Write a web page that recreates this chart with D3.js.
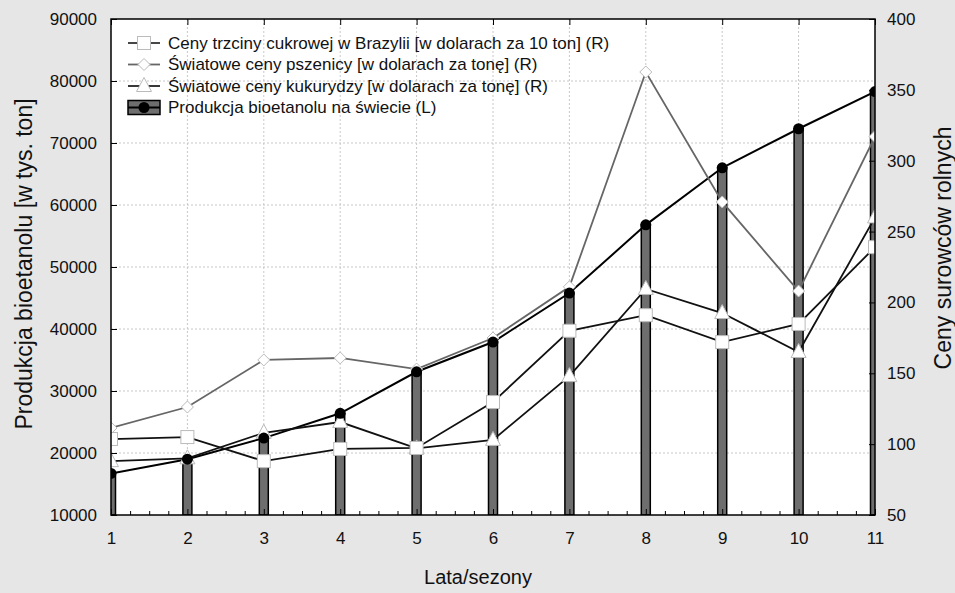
<!DOCTYPE html>
<html>
<head>
<meta charset="utf-8">
<script src="https://cdn.jsdelivr.net/npm/d3@7"></script>
<style>
  body { margin: 0; background: #e6e6e6; }
  svg { display: block; font-family: "Liberation Sans", Arial, sans-serif; }
</style>
</head>
<body>
<div id="chart"></div>
<script>
// data
const years = [1, 2, 3, 4, 5, 6, 7, 8, 9, 10, 11];
const ethanol = [16700, 19000, 22400, 26400, 33100, 37900, 45800, 56800, 66000, 72300, 78300];
const sugarCane = [103.6, 105, 88, 96.6, 97.3, 129.7, 180, 191, 172, 184.8, 239];
const wheat = [111.4, 126.2, 159.4, 160.8, 153, 174.9, 211, 362.6, 270.9, 208, 317];
const corn = [88, 90, 108, 115.6, 97, 103, 148, 209.5, 192.5, 165, 260];
const leftTicks = [10000, 20000, 30000, 40000, 50000, 60000, 70000, 80000, 90000];
const rightTicks = [50, 100, 150, 200, 250, 300, 350, 400];

const legendItems = [
  { label: "Ceny trzciny cukrowej w Brazylii [w dolarach za 10 ton] (R)", type: "square", line: "#333" },
  { label: "Światowe ceny pszenicy [w dolarach za tonę] (R)", type: "diamond", line: "#666" },
  { label: "Światowe ceny kukurydzy [w dolarach za tonę] (R)", type: "triangle", line: "#222" },
  { label: "Produkcja bioetanolu na świecie (L)", type: "bar", line: "#000" }
];

const width = 955, height = 593;
const margin = { top: 19, right: 80, bottom: 78, left: 111 };
const innerW = width - margin.left - margin.right;
const innerH = height - margin.top - margin.bottom;

const svg = d3.select("#chart").append("svg")
  .attr("width", width).attr("height", height);

svg.append("rect").attr("width", width).attr("height", height).attr("fill", "#e6e6e6");

const g = svg.append("g").attr("transform", `translate(${margin.left},${margin.top})`);

const x = d3.scaleLinear().domain([1, 11]).range([0, innerW]);
const yL = d3.scaleLinear().domain([10000, 90000]).range([innerH, 0]);
const yR = d3.scaleLinear().domain([50, 400]).range([innerH, 0]);

g.append("rect").attr("width", innerW).attr("height", innerH).attr("fill", "#fff");

svg.append("defs").append("clipPath").attr("id", "clip")
  .append("rect").attr("width", innerW).attr("height", innerH);

// grid
g.append("g").selectAll("line").data(leftTicks.slice(1, -1)).join("line")
  .attr("x1", 0).attr("x2", innerW)
  .attr("y1", d => yL(d)).attr("y2", d => yL(d))
  .attr("stroke", "#c8c8c8").attr("stroke-dasharray", "2,2");
g.append("g").selectAll("line").data(years.slice(1, -1)).join("line")
  .attr("x1", d => x(d)).attr("x2", d => x(d))
  .attr("y1", 0).attr("y2", innerH)
  .attr("stroke", "#c8c8c8").attr("stroke-dasharray", "2,2");

const plot = g.append("g").attr("clip-path", "url(#clip)");

// bars
const barW = 9;
plot.selectAll(".bar").data(ethanol).join("rect")
  .attr("x", (d, i) => x(years[i]) - barW / 2)
  .attr("y", d => yL(d))
  .attr("width", barW)
  .attr("height", d => innerH - yL(d))
  .attr("fill", "#6e6e6e").attr("stroke", "#000").attr("stroke-width", 1.5);

const lineL = d3.line().x((d, i) => x(years[i])).y(d => yL(d));
const lineR = d3.line().x((d, i) => x(years[i])).y(d => yR(d));

function drawMarker(sel, type, cx, cy) {
  if (type === "square") {
    sel.append("rect").attr("x", cx - 6.5).attr("y", cy - 6.5).attr("width", 13).attr("height", 13)
      .attr("fill", "#fff").attr("stroke", "#bbb").attr("stroke-width", 1);
  } else if (type === "diamond") {
    sel.append("path").attr("d", `M${cx},${cy - 6}L${cx + 6},${cy}L${cx},${cy + 6}L${cx - 6},${cy}Z`)
      .attr("fill", "#fff").attr("stroke", "#bbb").attr("stroke-width", 1);
  } else if (type === "triangle") {
    sel.append("path").attr("d", `M${cx},${cy - 8.5}L${cx + 7.5},${cy + 5.5}L${cx - 7.5},${cy + 5.5}Z`)
      .attr("fill", "#fff").attr("stroke", "#bbb").attr("stroke-width", 1);
  } else if (type === "circle") {
    sel.append("circle").attr("cx", cx).attr("cy", cy).attr("r", 5.5).attr("fill", "#000");
  }
}

const rightSeries = [
  { values: wheat, type: "diamond", line: "#666" },
  { values: corn, type: "triangle", line: "#111" },
  { values: sugarCane, type: "square", line: "#111" }
];

// ethanol line
plot.append("path").attr("d", lineL(ethanol)).attr("fill", "none")
  .attr("stroke", "#000").attr("stroke-width", 2);

rightSeries.forEach(s => {
  plot.append("path").attr("d", lineR(s.values)).attr("fill", "none")
    .attr("stroke", s.line).attr("stroke-width", 1.8);
});
rightSeries.forEach(s => {
  const mg = plot.append("g");
  s.values.forEach((v, i) => drawMarker(mg, s.type, x(years[i]), yR(v)));
});
const cg = plot.append("g");
ethanol.forEach((v, i) => drawMarker(cg, "circle", x(years[i]), yL(v)));

// frame
g.append("rect").attr("width", innerW).attr("height", innerH)
  .attr("fill", "none").attr("stroke", "#000").attr("stroke-width", 1.5);

// axes
const fontSize = "17px";
const xAxis = g.append("g").attr("transform", `translate(0,${innerH})`)
  .call(d3.axisBottom(x).tickValues(years).tickFormat(d3.format("d")).tickSize(-6).tickPadding(17));
const xMinor = g.append("g").attr("transform", `translate(0,${innerH})`)
  .call(d3.axisBottom(x).tickValues(d3.range(1, 11.01, 0.25).filter(v => v % 1 !== 0)).tickFormat("").tickSize(-4));
const xTop = g.append("g")
  .call(d3.axisTop(x).tickValues(years).tickFormat("").tickSize(-6));
const left = g.append("g")
  .call(d3.axisLeft(yL).tickValues(leftTicks).tickFormat(d3.format("d")).tickSize(-6).tickPadding(14));
const right = g.append("g").attr("transform", `translate(${innerW},0)`)
  .call(d3.axisRight(yR).tickValues(rightTicks).tickSize(-6).tickPadding(12));

[xAxis, xMinor, xTop, left, right].forEach(a => {
  a.select(".domain").remove();
  a.selectAll("line").attr("stroke", "#000");
  a.selectAll("text").attr("font-size", fontSize).attr("fill", "#111")
    .attr("font-family", "'Liberation Sans', Arial, sans-serif");
});

// axis titles
svg.append("text").attr("transform", "translate(32,264) rotate(-90)")
  .attr("text-anchor", "middle").attr("font-size", "23px").attr("fill", "#111")
  .text("Produkcja bioetanolu [w tys. ton]");
svg.append("text").attr("transform", "translate(951,248) rotate(-90)")
  .attr("text-anchor", "middle").attr("font-size", "23px").attr("fill", "#111")
  .text("Ceny surowców rolnych");
svg.append("text").attr("x", 478).attr("y", 584)
  .attr("text-anchor", "middle").attr("font-size", "20px").attr("fill", "#111")
  .text("Lata/sezony");

// legend
const lg = g.append("g").attr("transform", "translate(17,24)");
legendItems.forEach((it, i) => {
  const row = lg.append("g").attr("transform", `translate(0,${i * 21.5})`);
  if (it.type === "bar") {
    row.append("rect").attr("x", 0).attr("y", -7).attr("width", 32).attr("height", 14)
      .attr("fill", "#6e6e6e").attr("stroke", "#000").attr("stroke-width", 1.5);
    row.append("line").attr("x1", 0).attr("x2", 32).attr("stroke", "#000").attr("stroke-width", 2);
    drawMarker(row, "circle", 16, 0);
  } else {
    row.append("line").attr("x1", 0).attr("x2", 32).attr("stroke", it.line).attr("stroke-width", 1.8);
    drawMarker(row, it.type, 16, 0);
  }
  row.append("text").attr("x", 40).attr("dy", "0.35em")
    .attr("font-size", "17px").attr("fill", "#111").text(it.label);
});
</script>
</body>
</html>
